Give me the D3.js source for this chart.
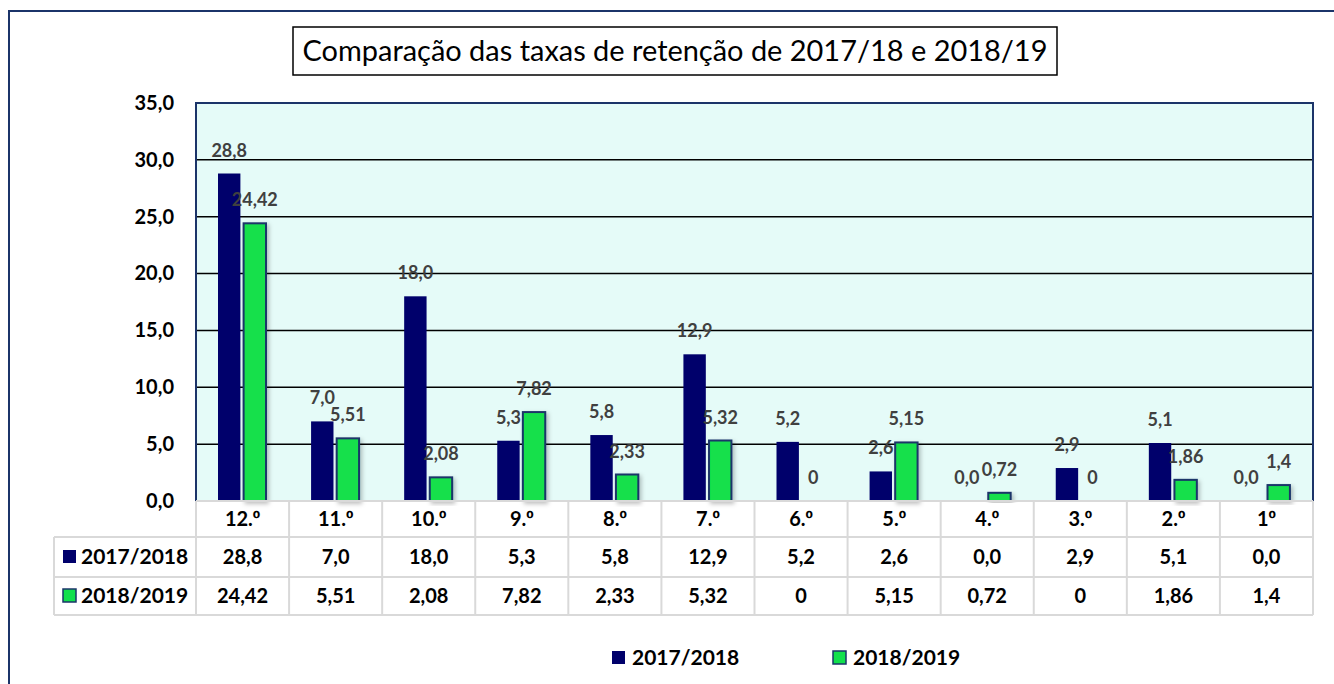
<!DOCTYPE html>
<html>
<head>
<meta charset="utf-8">
<script src="https://cdn.jsdelivr.net/npm/d3@7"></script>
<style>
  body { margin: 0; background: #fff; }
  svg { display: block; font-family: Lato, "Open Sans", sans-serif; }
</style>
</head>
<body>
<div id="chart"></div>
<script>
// Data
const categories = ["12.º", "11.º", "10.º", "9.º", "8.º", "7.º", "6.º", "5.º", "4.º", "3.º", "2.º", "1º"];
const seriesNames = ["2017/2018", "2018/2019"];
const values2017 = [28.8, 7.0, 18.0, 5.3, 5.8, 12.9, 5.2, 2.6, 0.0, 2.9, 5.1, 0.0];
const values2018 = [24.42, 5.51, 2.08, 7.82, 2.33, 5.32, 0, 5.15, 0.72, 0, 1.86, 1.4];
const yTicks = [0, 5, 10, 15, 20, 25, 30, 35];
const title = "Comparação das taxas de retenção de 2017/18 e 2018/19";

const width = 1334, height = 684;
const plot = {left: 196, right: 1313, top: 103, bottom: 501};
const colors = {"2017/2018": "#00006B", "2018/2019": "#12E04C"};
const strokeNavy = "#1B3469";

const fmt2017 = v => d3.format(".1f")(v).replace(".", ",");
const fmt2018 = v => String(v).replace(".", ",");
const formats = {"2017/2018": fmt2017, "2018/2019": fmt2018};

const rows = seriesNames.map((name, i) => ({
  name: name,
  values: i === 0 ? values2017 : values2018
}));

const svg = d3.select("#chart").append("svg")
    .attr("width", width)
    .attr("height", height);

// drop shadow for green bars
const defs = svg.append("defs");
const filter = defs.append("filter").attr("id", "shadow")
    .attr("x", "-30%").attr("y", "-10%").attr("width", "170%").attr("height", "130%");
filter.append("feDropShadow")
    .attr("dx", 2).attr("dy", 2).attr("stdDeviation", 2)
    .attr("flood-color", "#000").attr("flood-opacity", 0.25);

// outer frame
svg.append("path")
    .attr("d", `M9,${height} V11 H${width}`)
    .attr("fill", "none")
    .attr("stroke", strokeNavy)
    .attr("stroke-width", 2);

// title
const titleG = svg.append("g");
titleG.append("rect")
    .attr("x", 293).attr("y", 27)
    .attr("width", 764).attr("height", 48)
    .attr("fill", "#fff")
    .attr("stroke", "#000")
    .attr("stroke-width", 1.5);
const titleText = titleG.append("text")
    .attr("x", 675).attr("y", 61)
    .attr("text-anchor", "middle")
    .attr("font-size", 26)
    .attr("fill", "#000")
    .text(title);
// fit title width to the reference box
const tw = titleText.node().getComputedTextLength();
titleText.attr("font-size", 26 * 745 / tw);

// scales
const x = d3.scaleBand()
    .domain(categories)
    .range([plot.left, plot.right])
    .padding(0);

const xInner = d3.scaleBand()
    .domain(seriesNames)
    .range([22, 70])
    .paddingInner(0.125);

const y = d3.scaleLinear()
    .domain([0, 35])
    .range([plot.bottom, plot.top]);

// plot background
svg.append("rect")
    .attr("x", plot.left).attr("y", plot.top)
    .attr("width", plot.right - plot.left)
    .attr("height", plot.bottom - plot.top)
    .attr("fill", "#E5FBF8");

// gridlines
svg.append("g")
    .selectAll("line")
    .data(yTicks.filter(d => d > 0 && d < 35))
    .join("line")
    .attr("x1", plot.left).attr("x2", plot.right)
    .attr("y1", d => y(d)).attr("y2", d => y(d))
    .attr("stroke", "#000")
    .attr("stroke-width", 1.5);

// y axis
const yAxis = d3.axisLeft(y)
    .tickValues(yTicks)
    .tickSize(0)
    .tickPadding(22)
    .tickFormat(d => d3.format(".1f")(d).replace(".", ","));

svg.append("g")
    .attr("transform", `translate(${plot.left},0)`)
    .call(yAxis)
    .call(g => g.select(".domain").remove())
    .call(g => g.selectAll("text")
        .attr("font-family", "Lato, sans-serif")
        .attr("font-size", 20)
        .attr("font-weight", "bold")
        .attr("fill", "#000"));

// bars
const groups = svg.append("g")
    .selectAll("g")
    .data(rows)
    .join("g");

groups.selectAll("rect")
    .data(r => r.values.map((v, i) => ({name: r.name, cat: categories[i], value: v})))
    .join("rect")
    .attr("x", d => x(d.cat) + xInner(d.name))
    .attr("width", xInner.bandwidth())
    .attr("y", d => y(d.value))
    .attr("height", d => y(0) - y(d.value))
    .attr("fill", d => colors[d.name])
    .attr("stroke", d => d.name === "2018/2019" ? strokeNavy : "none")
    .attr("stroke-width", 2)
    .attr("filter", d => d.name === "2018/2019" ? "url(#shadow)" : null);

// data labels (zero navy labels sit a little to the left, as in the source)
groups.selectAll("text")
    .data(r => r.values.map((v, i) => ({name: r.name, cat: categories[i], value: v})))
    .join("text")
    .attr("x", d => x(d.cat) + xInner(d.name) + xInner.bandwidth() / 2
        - (d.name === "2017/2018" && d.value === 0 ? 7 : 0))
    .attr("y", d => y(d.value) - 17)
    .attr("text-anchor", "middle")
    .attr("font-size", 18)
    .attr("font-weight", "bold")
    .attr("fill", "#404040")
    .text(d => formats[d.name](d.value));

// plot border (left, top, right)
svg.append("path")
    .attr("d", `M${plot.left},${plot.bottom} V${plot.top} H${plot.right} V${plot.bottom}`)
    .attr("fill", "none")
    .attr("stroke", strokeNavy)
    .attr("stroke-width", 2);

// data table
const rowY = [plot.bottom, 537, 577, 615];
const headLeft = 54;
const gridColor = "#D9D9D9";
const table = svg.append("g");

// horizontal lines
table.selectAll("line.h")
    .data(rowY)
    .join("line")
    .attr("class", "h")
    .attr("x1", (d, i) => i === 0 ? plot.left : headLeft)
    .attr("x2", plot.right)
    .attr("y1", d => d).attr("y2", d => d)
    .attr("stroke", gridColor)
    .attr("stroke-width", 2);

// vertical lines
const colEdges = categories.map(c => x(c)).concat([plot.right]);
table.selectAll("line.v")
    .data(colEdges)
    .join("line")
    .attr("class", "v")
    .attr("x1", d => d).attr("x2", d => d)
    .attr("y1", rowY[0]).attr("y2", rowY[3])
    .attr("stroke", gridColor)
    .attr("stroke-width", 2);

table.append("line")
    .attr("x1", headLeft).attr("x2", headLeft)
    .attr("y1", rowY[1]).attr("y2", rowY[3])
    .attr("stroke", gridColor)
    .attr("stroke-width", 2);

// category labels; the ordinal sign uses a font whose º is underlined
const catText = table.selectAll("text.cat")
    .data(categories)
    .join("text")
    .attr("class", "cat")
    .attr("x", d => x(d) + x.bandwidth() / 2)
    .attr("y", (rowY[0] + rowY[1]) / 2 + 7)
    .attr("text-anchor", "middle")
    .attr("font-size", 20)
    .attr("font-weight", "bold")
    .attr("fill", "#000");
catText.append("tspan").text(d => d.replace("º", ""));
catText.append("tspan")
    .attr("font-family", "'Liberation Sans', Arial, sans-serif")
    .text("º");

// series rows
rows.forEach((r, ri) => {
  const yc = (rowY[ri + 1] + rowY[ri + 2]) / 2;
  const rg = table.append("g");
  rg.append("rect")
      .attr("x", 63).attr("y", yc - 7)
      .attr("width", 13).attr("height", 13)
      .attr("fill", colors[r.name])
      .attr("stroke", ri === 1 ? strokeNavy : "none")
      .attr("stroke-width", 1.5);
  rg.append("text")
      .attr("x", 81).attr("y", yc + 7)
      .attr("font-size", 21)
      .attr("font-weight", "bold")
      .attr("fill", "#000")
      .text(r.name);
  rg.selectAll("text.val")
      .data(r.values)
      .join("text")
      .attr("class", "val")
      .attr("x", (d, i) => x(categories[i]) + x.bandwidth() / 2)
      .attr("y", yc + 7)
      .attr("text-anchor", "middle")
      .attr("font-size", 20)
      .attr("font-weight", "bold")
      .attr("fill", "#000")
      .text(d => formats[r.name](d));
});

// legend
const legendX = [612, 833];
const legend = svg.append("g")
    .selectAll("g")
    .data(seriesNames)
    .join("g")
    .attr("transform", (d, i) => `translate(${legendX[i]},651)`);

legend.append("rect")
    .attr("width", 13).attr("height", 13)
    .attr("fill", d => colors[d])
    .attr("stroke", (d, i) => i === 1 ? strokeNavy : "none")
    .attr("stroke-width", 1.5);

legend.append("text")
    .attr("x", 20).attr("y", 14)
    .attr("font-size", 21)
    .attr("font-weight", "bold")
    .attr("fill", "#000")
    .text(d => d);
</script>
</body>
</html>
